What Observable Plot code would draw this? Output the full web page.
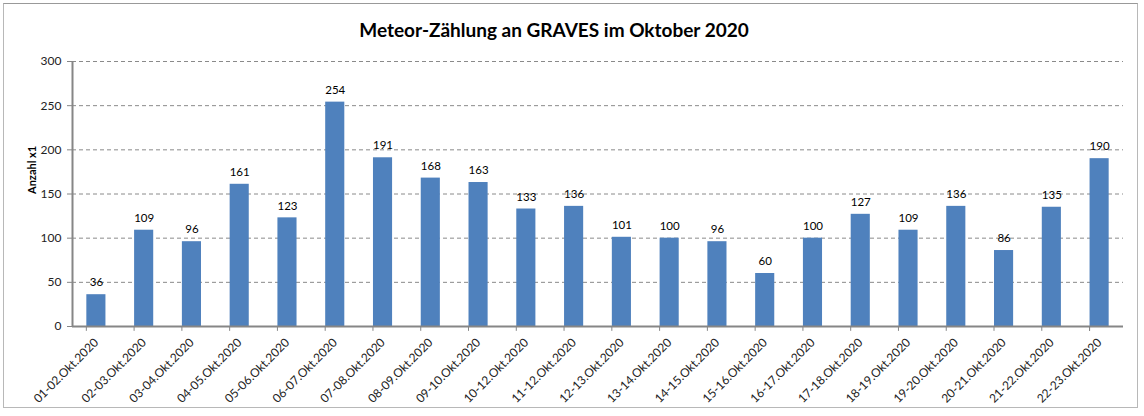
<!DOCTYPE html>
<html><head><meta charset="utf-8">
<script src="https://cdn.jsdelivr.net/npm/d3@7"></script>
<script src="https://cdn.jsdelivr.net/npm/@observablehq/plot@0.6"></script>
<style>
body{margin:0;background:#fff;font-family:Lato,"Open Sans",sans-serif;}
#wrap{position:relative;width:1144px;height:416px;overflow:hidden;}
#border{position:absolute;left:3px;top:3px;width:1133px;height:403px;border:1px solid #b8b8b8;border-top-color:#999;}
#title{position:relative;height:44px;line-height:44px;padding-top:8px;padding-right:36px;box-sizing:border-box;text-align:center;font-size:19px;font-weight:bold;color:#000;}
#chart{position:relative;height:372px;}
#chart svg{display:block;}
</style></head>
<body><div id="wrap"><div id="border"></div><div id="title">Meteor-Zählung an GRAVES im Oktober 2020</div><div id="chart"></div></div>
<script>
const categories = ["01-02.Okt.2020","02-03.Okt.2020","03-04.Okt.2020","04-05.Okt.2020","05-06.Okt.2020","06-07.Okt.2020","07-08.Okt.2020","08-09.Okt.2020","09-10.Okt.2020","10-12.Okt.2020","11-12.Okt.2020","12-13.Okt.2020","13-14.Okt.2020","14-15.Okt.2020","15-16.Okt.2020","16-17.Okt.2020","17-18.Okt.2020","18-19.Okt.2020","19-20.Okt.2020","20-21.Okt.2020","21-22.Okt.2020","22-23.Okt.2020"];
const counts = [36,109,96,161,123,254,191,168,163,133,136,101,100,96,60,100,127,109,136,86,135,190];
const yTicks = [0,50,100,150,200,250,300];
const yLabel = "Anzahl x1";

const data = categories.map((c,i)=>({cat:c, n:counts[i]}));
const W = 1144, H = 372, mL = 72, mR = 21;
const step = (W - mL - mR) / categories.length;
const boundaries = categories.map(c=>({c, dx:-step/2})).concat([{c:categories[categories.length-1], dx:step/2}]);

const chart = Plot.plot({
  width: W, height: H,
  marginLeft: mL, marginRight: mR, marginTop: 17, marginBottom: 90,
  style:{fontFamily:"Lato, 'Open Sans', sans-serif", fontSize:"11px", color:"#000", background:"transparent"},
  x:{domain:categories, paddingInner:0.6, paddingOuter:0.3, round:false, label:null},
  y:{domain:[0,300], label:null},
  marks:[
    Plot.gridY(yTicks.filter(d=>d>0), {stroke:"#8a8a8a", strokeOpacity:1, strokeDasharray:"4,3"}),
    Plot.barY(data, {x:"cat", y:"n", fill:"#4F81BD"}),
    Plot.text(data, {x:"cat", y:"n", text:d=>String(d.n), dy:-12, fill:"#000", fontSize:11.5}),
    Plot.ruleY([0], {stroke:"#868686", strokeWidth:2}),
    Plot.ruleX([categories[0]], {x:d=>d, dx:-step/2, y1:0, y2:300, stroke:"#868686", strokeWidth:2}),
    Plot.ruleX(boundaries, {x:"c", dx:d=>d.dx, y1:0, y2:-5.5, stroke:"#868686"}),
    Plot.axisY({ticks:yTicks, tickSize:5, tickPadding:6, stroke:"#868686", fill:"#222", fontSize:12, label:null}),
    Plot.axisX({tickSize:0, tickRotate:-45, tickPadding:14, fill:"#222", fontSize:12, label:null}),
    Plot.text([yLabel], {frameAnchor:"left", dx:-40, rotate:-90, text:d=>d, fontWeight:"bold", fontSize:11, fill:"#000"})
  ]
});
document.getElementById("chart").appendChild(chart);
</script></body></html>
